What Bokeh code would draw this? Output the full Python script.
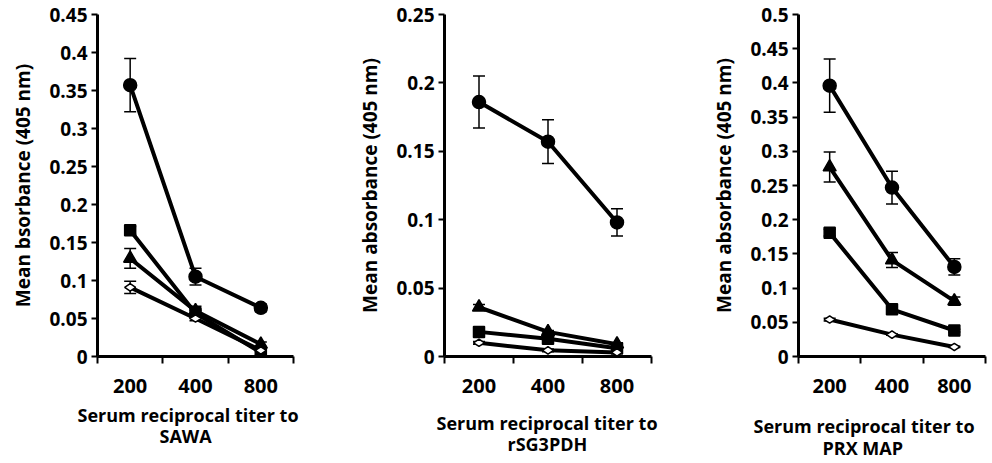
import math
from bokeh.plotting import figure
from bokeh.layouts import row
from bokeh.models import (Range1d, FixedTicker, PrintfTickFormatter, Whisker,
                          TeeHead, ColumnDataSource, Title)
from bokeh.embed import file_html
from bokeh.resources import INLINE

# ---------------- data ----------------
titers = ["200", "400", "800"]

sawa_circle = [0.357, 0.105, 0.064]
sawa_circle_err = [0.035, 0.011, 0.005]
sawa_square = [0.166, 0.057, 0.005]
sawa_square_err = [0.005, 0.004, 0.002]
sawa_triangle = [0.129, 0.060, 0.016]
sawa_triangle_err = [0.013, 0.006, 0.003]
sawa_diamond = [0.091, 0.050, 0.008]
sawa_diamond_err = [0.008, 0.003, 0.002]

g3pdh_circle = [0.186, 0.157, 0.098]
g3pdh_circle_err = [0.019, 0.016, 0.010]
g3pdh_square = [0.018, 0.013, 0.006]
g3pdh_square_err = [0.002, 0.001, 0.001]
g3pdh_triangle = [0.036, 0.018, 0.009]
g3pdh_triangle_err = [0.002, 0.001, 0.001]
g3pdh_diamond = [0.010, 0.0045, 0.003]
g3pdh_diamond_err = [0.001, 0.001, 0.001]

prx_circle = [0.396, 0.247, 0.131]
prx_circle_err = [0.039, 0.024, 0.012]
prx_triangle = [0.277, 0.141, 0.081]
prx_triangle_err = [0.022, 0.011, 0.006]
prx_square = [0.181, 0.069, 0.038]
prx_square_err = [0.005, 0.003, 0.002]
prx_diamond = [0.054, 0.032, 0.014]
prx_diamond_err = [0.002, 0.001, 0.001]

sawa_ticks = [0, 0.05, 0.1, 0.15, 0.2, 0.25, 0.3, 0.35, 0.4, 0.45]
g3pdh_ticks = [0, 0.05, 0.1, 0.15, 0.2, 0.25]
prx_ticks = [0, 0.05, 0.1, 0.15, 0.2, 0.25, 0.3, 0.35, 0.4, 0.45, 0.5]

sawa_ylabel = "Mean bsorbance (405 nm)"
g3pdh_ylabel = "Mean absorbance (405 nm)"
prx_ylabel = "Mean absorbance (405 nm)"

title_line1 = "Serum reciprocal titer to"
sawa_title2 = "SAWA"
g3pdh_title2 = "rSG3PDH"
prx_title2 = "PRX MAP"

FONT = "Open Sans"


def make_panel(ymax, ticks, ylabel, line2, series, frame_w, left, right,
               off1, off2, s1, s2):
    p = figure(frame_width=frame_w, frame_height=342,
               min_border_left=left, min_border_right=right,
               min_border_top=14, min_border_bottom=104,
               x_range=Range1d(0, 3), y_range=Range1d(0, ymax),
               toolbar_location=None, output_backend="svg")
    p.xgrid.visible = False
    p.ygrid.visible = False
    p.outline_line_color = None
    p.background_fill_color = "white"
    p.border_fill_color = "white"

    xs = [i + 0.5 for i in range(len(titers))]

    # y axis
    ya = p.yaxis[0]
    ya.ticker = FixedTicker(ticks=ticks)
    ya.formatter = PrintfTickFormatter(format="%g")
    ya.axis_line_width = 3
    ya.major_tick_line_width = 2
    ya.major_tick_out = 6
    ya.major_tick_in = 0
    ya.minor_tick_out = 0
    ya.minor_tick_in = 0
    ya.major_label_standoff = 4
    ya.major_label_text_font = FONT
    ya.major_label_text_font_style = "bold"
    ya.major_label_text_font_size = "19px"
    ya.major_label_text_color = "black"
    ya.axis_label = ylabel
    ya.axis_label_standoff = 10
    ya.axis_label_text_font = FONT
    ya.axis_label_text_font_style = "bold"
    ya.axis_label_text_font_size = "19px"
    ya.axis_label_text_color = "black"

    # x axis
    xa = p.xaxis[0]
    xa.ticker = FixedTicker(ticks=xs, minor_ticks=list(range(len(titers) + 1)))
    xa.major_label_overrides = {x: t for x, t in zip(xs, titers)}
    xa.axis_line_width = 3
    xa.major_tick_out = 0
    xa.major_tick_in = 0
    xa.minor_tick_out = 7
    xa.minor_tick_in = 0
    xa.minor_tick_line_width = 2
    xa.major_label_standoff = 15
    xa.major_label_text_font = FONT
    xa.major_label_text_font_style = "bold"
    xa.major_label_text_font_size = "20px"
    xa.major_label_text_color = "black"

    for vals, errs, marker, size, fill in series:
        up = [v + e for v, e in zip(vals, errs)]
        lo = [v - e for v, e in zip(vals, errs)]
        src = ColumnDataSource(dict(x=xs, y=vals, up=up, lo=lo))
        p.add_layout(Whisker(source=src, base="x", upper="up", lower="lo",
                             dimension="height", line_width=1.5,
                             line_color="black",
                             upper_head=TeeHead(size=12, line_width=1.5),
                             lower_head=TeeHead(size=12, line_width=1.5)))
        p.line("x", "y", source=src, line_width=4, line_color="black")
        kw = {}
        if marker == "diamond":
            kw["angle"] = math.pi / 2
        p.scatter("x", "y", source=src, marker=marker, size=size,
                  fill_color=fill, line_color="black", line_width=1.5, **kw)

    t1 = Title(text=title_line1, align="left", offset=off1,
               text_font=FONT, text_font_style="bold",
               text_font_size="18px", text_color="black", standoff=s1)
    t2 = Title(text=line2, align="left", offset=off2, vertical_align="top",
               text_font=FONT, text_font_style="bold",
               text_font_size="18px", text_color="black", standoff=s2)
    p.add_layout(t1, "below")
    p.add_layout(t2, "below")
    return p


p1 = make_panel(0.45, sawa_ticks, sawa_ylabel, sawa_title2,
                [(sawa_circle, sawa_circle_err, "circle", 13, "black"),
                 (sawa_square, sawa_square_err, "square", 11, "black"),
                 (sawa_triangle, sawa_triangle_err, "triangle", 13, "black"),
                 (sawa_diamond, sawa_diamond_err, "diamond", 11, "white")],
                196, 97, 37, -20, 62, 11, -17)
p2 = make_panel(0.25, g3pdh_ticks, g3pdh_ylabel, g3pdh_title2,
                [(g3pdh_circle, g3pdh_circle_err, "circle", 13, "black"),
                 (g3pdh_square, g3pdh_square_err, "square", 11, "black"),
                 (g3pdh_triangle, g3pdh_triangle_err, "triangle", 13, "black"),
                 (g3pdh_diamond, g3pdh_diamond_err, "diamond", 11, "white")],
                207, 114, 9, -8, 63, 27, -33)
p3 = make_panel(0.5, prx_ticks, prx_ylabel, prx_title2,
                [(prx_circle, prx_circle_err, "circle", 13, "black"),
                 (prx_triangle, prx_triangle_err, "triangle", 13, "black"),
                 (prx_square, prx_square_err, "square", 11, "black"),
                 (prx_diamond, prx_diamond_err, "diamond", 11, "white")],
                187, 138, 5, -45, 24, 33, -37)

layout = row(p1, p2, p3)
open("out.html", "w").write(file_html(layout, INLINE))
